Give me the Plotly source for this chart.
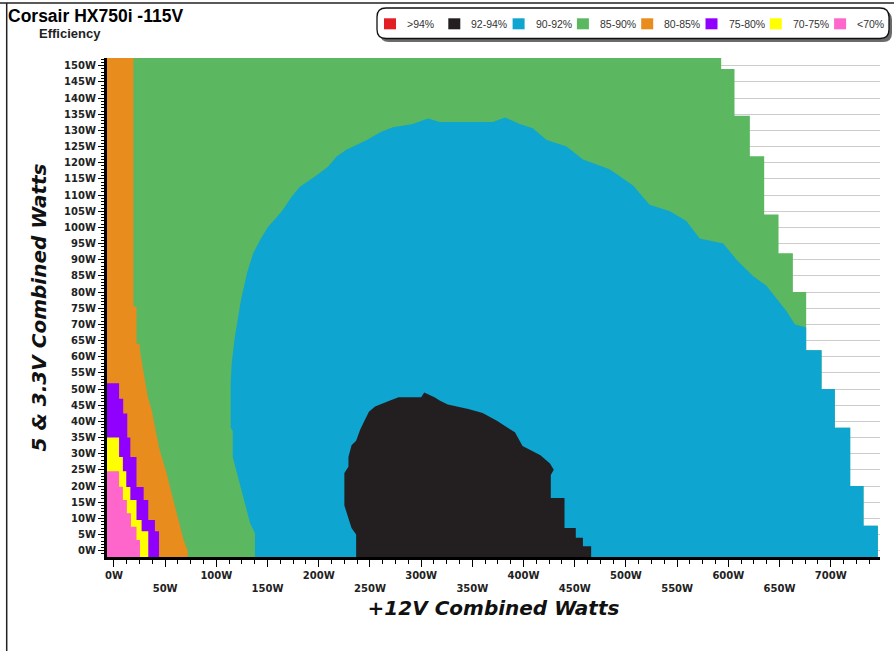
import plotly.graph_objects as go

# ---------------- text ----------------
TITLE = "Corsair HX750i -115V"
SUBTITLE = "Efficiency"
X_TITLE = "+12V Combined Watts"
Y_TITLE = "5 & 3.3V Combined Watts"

BAND_LABELS = [">94%", "92-94%", "90-92%", "85-90%", "80-85%", "75-80%", "70-75%", "<70%"]
BAND_COLORS = ["#e31e24", "#231f20", "#0ea5d0", "#5bb760", "#e88c1e", "#9000ff", "#ffff00", "#ff66cc"]

X_TICKS = list(range(0, 701, 50))
Y_TICKS = list(range(0, 151, 5))
X_TICK_TEXT = [f"{v}W" if v % 100 == 0 else f"<br>{v}W" for v in X_TICKS]
Y_TICK_TEXT = [f"{v}W" for v in Y_TICKS]

X_RANGE = [-6.8, 748.1]
Y_RANGE = [-1.95, 152.4]

# ---------------- data: region boundaries (W) ----------------
# max-load envelope: (top of step, x) stairs
ENV_Y_TOP = [152.4, 149, 134.5, 122, 104, 92, 80, 62, 50, 38, 20, 7.7]
ENV_X = [593, 606, 621, 635, 649, 663, 676, 691, 704, 719, 732, 746]

# 90-92% region outline: left side (bottom -> top), dome, right side down to envelope
BLUE_X = [137.7, 137.7, 133, 129.6, 124.7, 120, 116, 116, 114, 114, 115, 118, 124, 130, 136,
          142.6, 150, 164, 173.5, 181.6, 196, 209, 217.5, 227, 247, 261, 272.5, 292, 306.6,
          318, 370, 382, 396, 409, 422.5, 442, 458, 484, 507, 523, 543, 559, 572, 595, 608,
          624, 637, 647, 657, 665, 676]
BLUE_Y = [-1.95, 5.4, 8.5, 12.6, 18.7, 24, 29, 37, 38, 52, 58, 66, 77.5, 86, 92,
          96, 100, 105, 109.5, 112.6, 115.7, 118.8, 121.9, 124, 127, 129.6, 131, 132, 133.7,
          132.6, 132.6, 134, 132, 130.7, 127, 125, 121, 118, 113, 107, 105, 102, 96.6, 95, 90,
          85, 82, 78, 74, 70, 69]

# 92-94% region outline
BLACK_X = [236.5, 236.5, 232, 229, 225, 225, 229, 229, 232, 236.5, 240.5, 245, 249, 255, 262,
           269, 278, 300, 303, 313, 318.5, 326, 346, 360, 374, 383, 391.6, 399, 416.5, 425.8,
           429.5, 426.6, 426.6, 440, 440, 451, 451, 458, 458, 466, 466]
BLACK_Y = [-1.95, 5, 7, 10, 14, 24, 26, 29, 32.6, 34, 37.5, 40.4, 43, 44.6, 45.4,
           46.4, 47.5, 47.5, 48.9, 47.5, 46.4, 45.2, 43.8, 42.6, 40.2, 38.3, 36.6, 32.4, 29.5, 27,
           25, 23.4, 16.3, 16.3, 7, 7, 4, 4, 1.4, 1.4, -1.95]

# 80-85% right edge (top -> bottom)
ORANGE_X = [19, 19, 22, 22, 25, 25.4, 29, 33, 36.8, 40, 44, 47.5, 51.4, 54.7, 57.8, 61, 64.5, 68, 72, 72]
ORANGE_Y = [152.4, 75.5, 75.5, 64, 64, 62, 55, 47.6, 43.5, 38, 32, 28, 24, 19.7, 15.7, 11.6, 7.3, 3.3, 0, -1.95]

# stair bands: (top of step, x)
PURPLE_Y_TOP = [51.8, 47, 42.4, 35, 29, 19.7, 15.7, 9.5, 6]
PURPLE_X = [5, 9, 13, 16, 22, 29, 33.5, 40, 44]
YELLOW_Y_TOP = [35, 29, 24.6, 19.7, 15.7, 9.5, 6]
YELLOW_X = [5, 8.7, 12, 16, 22, 27, 33.5]
PINK_Y_TOP = [24.6, 19.8, 15.7, 11.6, 7.4, 3.3]
PINK_X = [5, 8.7, 12.6, 16.6, 22, 25.4]


def stair_path(y_tops, xs, y_bottom, y_from=None):
    pts = []
    for i, (yt, x) in enumerate(zip(y_tops, xs)):
        yb = y_tops[i + 1] if i + 1 < len(y_tops) else y_bottom
        if y_from is not None:
            if yb >= y_from:
                continue
            yt = min(yt, y_from)
        pts += [(x, yt), (x, yb)]
    return pts


XMIN, XMAX = X_RANGE
YMIN, YMAX = Y_RANGE

regions = []
# 85-90% : everything under the envelope
g = [(XMIN, YMIN), (XMIN, YMAX)] + stair_path(ENV_Y_TOP, ENV_X, YMIN)
regions.append((g, BAND_COLORS[3]))
# 90-92%
b = list(zip(BLUE_X, BLUE_Y)) + stair_path(ENV_Y_TOP, ENV_X, YMIN, y_from=BLUE_Y[-1])
regions.append((b, BAND_COLORS[2]))
# 92-94%
regions.append((list(zip(BLACK_X, BLACK_Y)), BAND_COLORS[1]))
# 80-85%
o = [(XMIN, YMIN), (XMIN, YMAX)] + list(zip(ORANGE_X, ORANGE_Y))
regions.append((o, BAND_COLORS[4]))
# 75-80%, 70-75%, <70%
for ytops, xs, col in [(PURPLE_Y_TOP, PURPLE_X, BAND_COLORS[5]),
                       (YELLOW_Y_TOP, YELLOW_X, BAND_COLORS[6]),
                       (PINK_Y_TOP, PINK_X, BAND_COLORS[7])]:
    p = [(XMIN, YMIN), (XMIN, ytops[0])] + stair_path(ytops, xs, YMIN)
    regions.append((p, col))

fig = go.Figure()
for pts, col in regions:
    fig.add_trace(go.Scatter(
        x=[p[0] for p in pts], y=[p[1] for p in pts],
        fill="toself", fillcolor=col, mode="lines",
        line=dict(width=0, color=col), hoverinfo="skip", showlegend=False))

# ---------------- layout ----------------
W, H = 894, 651
ML, MR, MT, MB = 107, 14, 58, 94
PW, PH = W - ML - MR, H - MT - MB


def px(xp):
    return (xp - ML) / PW


def py(yp):
    return (H - MB - yp) / PH


TICK_FONT = dict(family="DejaVu Sans", size=10, color="#222", weight="bold")
TITLE_FONT = dict(family="DejaVu Sans", size=20, color="#111", weight="bold", style="italic")

fig.update_layout(
    width=W, height=H,
    margin=dict(l=ML, r=MR, t=MT, b=MB),
    paper_bgcolor="white", plot_bgcolor="white",
    showlegend=False,
    xaxis=dict(
        range=X_RANGE, tickmode="array", tickvals=X_TICKS, ticktext=X_TICK_TEXT,
        ticks="outside", ticklen=7, tickwidth=1, tickcolor="black",
        showline=True, linecolor="black", linewidth=3, showgrid=False, zeroline=False,
        tickfont=TICK_FONT,
        minor=dict(tickmode="linear", tick0=0, dtick=12.5, ticks="outside", ticklen=4,
                   tickcolor="black", showgrid=False),
        title=dict(text=X_TITLE, font=TITLE_FONT, standoff=8),
    ),
    yaxis=dict(
        range=Y_RANGE, tickmode="array", tickvals=Y_TICKS, ticktext=Y_TICK_TEXT,
        ticks="outside", ticklen=6, tickwidth=1, tickcolor="black",
        showline=True, linecolor="black", linewidth=3,
        showgrid=True, gridcolor="#cccccc", gridwidth=1, zeroline=False,
        tickfont=TICK_FONT,
        minor=dict(tickmode="linear", tick0=0, dtick=1, ticks="outside", ticklen=3,
                   tickcolor="black", showgrid=False),
        title=dict(text=Y_TITLE, font=TITLE_FONT, standoff=13),
    ),
)

shapes = []
annotations = []

# outer frame (top and left edges visible)
shapes.append(dict(type="line", xref="paper", yref="paper", x0=px(0), x1=px(W), y0=py(3), y1=py(3),
                   line=dict(color="#222", width=1.5)))
shapes.append(dict(type="line", xref="paper", yref="paper", x0=px(6.7), x1=px(6.7), y0=py(3), y1=py(H),
                   line=dict(color="#222", width=1.5)))


def rounded(x0, y0, x1, y1, r):
    return (f"M {px(x0 + r)},{py(y0)} L {px(x1 - r)},{py(y0)} Q {px(x1)},{py(y0)} {px(x1)},{py(y0 + r)} "
            f"L {px(x1)},{py(y1 - r)} Q {px(x1)},{py(y1)} {px(x1 - r)},{py(y1)} "
            f"L {px(x0 + r)},{py(y1)} Q {px(x0)},{py(y1)} {px(x0)},{py(y1 - r)} "
            f"L {px(x0)},{py(y0 + r)} Q {px(x0)},{py(y0)} {px(x0 + r)},{py(y0)} Z")


# legend box with shadow
shapes.append(dict(type="path", xref="paper", yref="paper", path=rounded(380, 11, 892, 42, 9),
                   fillcolor="#6a6a6a", line=dict(width=0)))
shapes.append(dict(type="path", xref="paper", yref="paper", path=rounded(377, 8, 889, 38.5, 9),
                   fillcolor="white", line=dict(color="#111", width=1.3)))

for i, (lab, col) in enumerate(zip(BAND_LABELS, BAND_COLORS)):
    x0 = 384 + i * 64.3
    shapes.append(dict(type="rect", xref="paper", yref="paper",
                       x0=px(x0), x1=px(x0 + 12), y0=py(29.3), y1=py(18.3),
                       fillcolor=col, line=dict(width=0)))
    annotations.append(dict(xref="paper", yref="paper", x=px(x0 + 21), y=py(24), text=lab,
                            showarrow=False, xanchor="left", yanchor="middle",
                            font=dict(family="Liberation Sans", size=10.5, color="#333")))

annotations.append(dict(xref="paper", yref="paper", x=px(6), y=py(16), text=TITLE,
                        showarrow=False, xanchor="left", yanchor="middle",
                        font=dict(family="Liberation Sans", size=17.5, color="black", weight="bold")))
annotations.append(dict(xref="paper", yref="paper", x=px(37), y=py(33), text=SUBTITLE,
                        showarrow=False, xanchor="left", yanchor="middle",
                        font=dict(family="Liberation Sans", size=13, color="#222", weight="bold")))

fig.update_layout(shapes=shapes, annotations=annotations)

fig.write_html("out.html")
